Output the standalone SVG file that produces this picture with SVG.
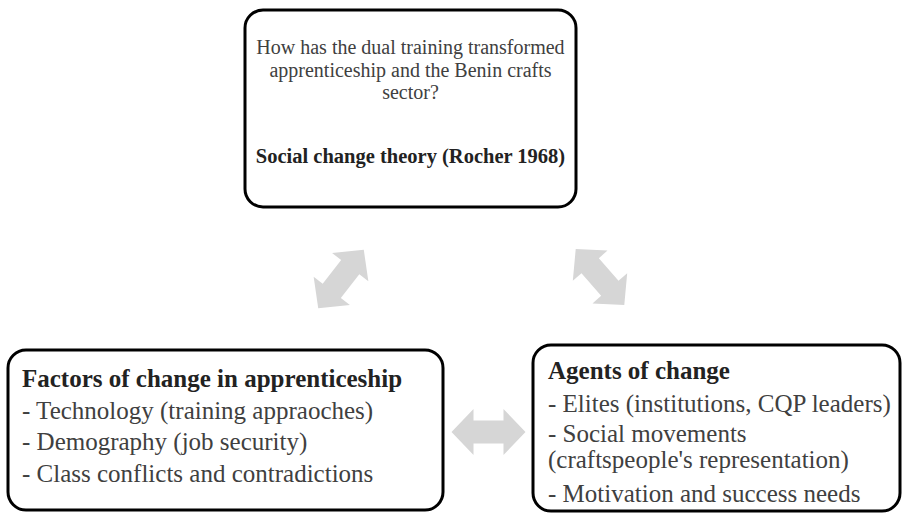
<svg xmlns="http://www.w3.org/2000/svg" width="904" height="513" viewBox="0 0 904 513">
  <style>
    .box { fill: #ffffff; stroke: #000000; stroke-width: 3; }
    text { font-family: "Liberation Serif", Tinos, "Times New Roman", Times, "DejaVu Serif", serif; fill: #404040; }
    .q { font-size: 20px; }
    .qh { font-size: 20.5px; }
    .txt { font-size: 25px; }
    .hd { font-weight: bold; fill: #222222; }
    .arr { fill: #d6d6d6; }
  </style>
  <defs>
    <!-- double-headed block arrow, centred on the origin, pointing along x -->
    <path id="dbl" d="M -37 0 L -15 -23 L -15 -11.5 L 15 -11.5 L 15 -23 L 37 0 L 15 23 L 15 11.5 L -15 11.5 L -15 23 Z"/>
  </defs>

  <g id="connectors">
    <use href="#dbl" class="arr" transform="translate(341 279) rotate(-52)"/>
    <use href="#dbl" class="arr" transform="translate(600 277) rotate(49)"/>
    <use href="#dbl" class="arr" transform="translate(488.5 432)"/>
  </g>

  <g id="question">
    <rect class="box" x="245" y="10" width="331" height="197" rx="18"/>
    <text class="q" text-anchor="middle" x="410.5" y="54">How has the dual training transformed</text>
    <text class="q" text-anchor="middle" x="410.5" y="77">apprenticeship and the Benin crafts</text>
    <text class="q" text-anchor="middle" x="410.5" y="99">sector?</text>
    <text class="qh hd" text-anchor="middle" x="410.5" y="163">Social change theory (Rocher 1968)</text>
  </g>

  <g id="factors">
    <rect class="box" x="8" y="350" width="435" height="160" rx="18"/>
    <text class="txt hd" x="22" y="387">Factors of change in apprenticeship</text>
    <text class="txt" x="22" y="419">- Technology (training appraoches)</text>
    <text class="txt" x="22" y="450">- Demography (job security)</text>
    <text class="txt" x="22" y="482">- Class conflicts and contradictions</text>
  </g>

  <g id="agents">
    <rect class="box" x="533" y="345" width="367" height="166" rx="18"/>
    <text class="txt hd" x="548" y="379">Agents of change</text>
    <text class="txt" x="548" y="412">- Elites  (institutions, CQP leaders)</text>
    <text class="txt" x="548" y="442">- Social movements</text>
    <text class="txt" x="548" y="468">(craftspeople's representation)</text>
    <text class="txt" x="548" y="502">- Motivation and success needs</text>
  </g>
</svg>
